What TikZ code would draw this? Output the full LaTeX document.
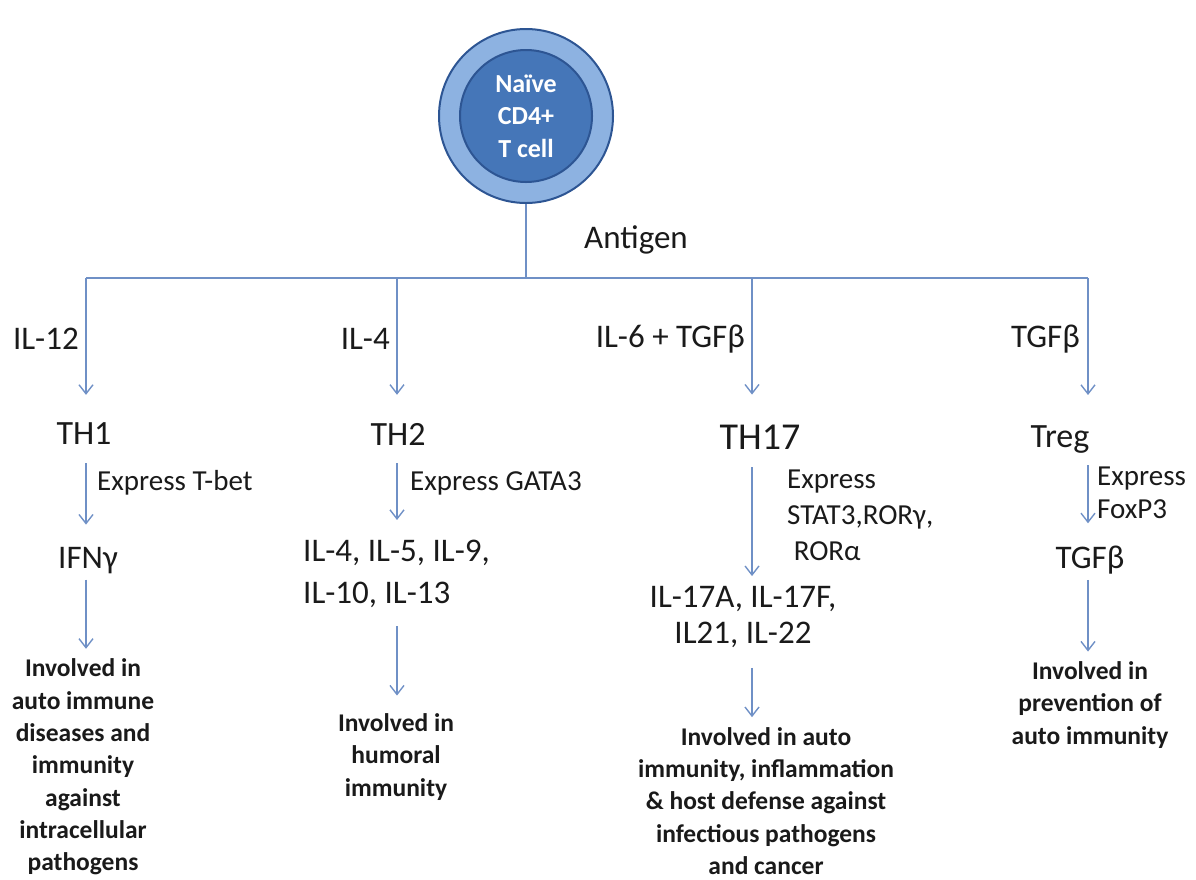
\documentclass[tikz,border=0pt]{standalone}
\usepackage{fontspec}
\setmainfont{Carlito}
\usetikzlibrary{arrows.meta}
\definecolor{lncol}{HTML}{6F90C6}
\definecolor{txt}{HTML}{1A1A1A}
\definecolor{ringfill}{HTML}{8DB2E1}
\definecolor{corefill}{HTML}{4576B8}
\definecolor{rimcol}{HTML}{2D5593}
\begin{document}
\begin{tikzpicture}[x=1pt,y=-1pt,
  ln/.style={draw=lncol, line width=1.4pt},
  arr/.style={ln, -{Straight Barb[length=9pt,width=14pt]}},
  lab/.style={inner sep=0pt, text=txt, font=\fontsize{33}{40}\selectfont},
  thlab/.style={inner sep=0pt, text=txt, font=\fontsize{34}{40}\selectfont},
  exlab/.style={inner sep=0pt, text=txt, font=\fontsize{29}{35}\selectfont, align=left},
  outcome/.style={inner sep=0pt, text=txt, align=center, font=\fontsize{25.5}{32.3}\selectfont\bfseries},
]
\useasboundingbox (0,0) rectangle (1196,879);

% naive cell
\node[circle, minimum size=174pt, inner sep=0pt, fill=ringfill, draw=rimcol, line width=2pt] (cell) at (526,116) {};
\node[circle, minimum size=132pt, inner sep=0pt, fill=corefill, draw=rimcol, line width=2pt,
      text=white, align=center, font=\fontsize{26}{32.5}\selectfont\bfseries] (core) at (526,116) {Naïve\\CD4+\\T cell};

\node[lab] (antigen) at (636,240) {Antigen};

% junctions
\coordinate (j0) at (526,278);
\coordinate (j1) at (86,278);
\coordinate (j2) at (397,278);
\coordinate (j3) at (752,278);
\coordinate (j4) at (1088,278);
\draw[ln] (cell.south) -- (j0);
\draw[ln] (j1) -- (j4);

% branch labels
\node[lab, anchor=east] (il12) at (79,339) {IL-12};
\node[lab, anchor=east] (il4) at (390,339) {IL-4};
\node[lab, anchor=east] (il6) at (745,339) {IL-6 + TGFβ};
\node[lab, anchor=east] (tgf) at (1080,339) {TGFβ};

% subsets
\node[thlab] (th1) at (84,434) {TH1};
\node[thlab] (th2) at (398,434) {TH2};
\node[thlab, font=\fontsize{38}{44}\selectfont] (th17) at (760,437) {TH17};
\node[thlab, anchor=base] (treg) at (1060,447) {Treg};

\draw[arr, shorten >=28pt] (j1) -- (j1 |- th1.north);
\draw[arr, shorten >=28pt] (j2) -- (j2 |- th2.north);
\draw[arr, shorten >=30pt] (j3) -- (j3 |- th17.north);
\draw[arr, shorten >=30pt] (j4) -- (j4 |- treg.north);

% transcription factors
\node[exlab, anchor=west] (ex1) at (97,483) {Express T-bet};
\node[exlab, anchor=west] (ex2) at (410,483) {Express GATA3};
\node[exlab, anchor=west, font=\fontsize{29}{36}\selectfont] (ex3) at (787,515) {Express\\STAT3,RORγ,\\\ RORα};
\node[exlab, anchor=west, font=\fontsize{29}{33}\selectfont] (ex4) at (1097,493) {Express\\FoxP3};

% cytokines
\node[lab, anchor=base] (ifn) at (88,568) {IFNγ};
\node[lab, anchor=west, align=left, font=\fontsize{33}{42}\selectfont] (il2) at (303,574) {IL-4, IL-5, IL-9,\\IL-10, IL-13};
\node[lab, align=center, font=\fontsize{33}{36}\selectfont] (il3) at (743,617) {IL-17A, IL-17F,\\IL21, IL-22};
\node[lab, anchor=base] (tgf4) at (1090,568) {TGFβ};

\draw[arr, shorten <=18pt, shorten >=22pt] (th1.south -| j1) -- (j1 |- ifn.north);
\draw[arr, shorten <=18pt, shorten >=20pt] (th2.south -| j2) -- (j2 |- il2.north);
\draw[arr, shorten <=18pt, shorten >=10pt] (th17.south -| j3) -- (j3 |- il3.north);
\draw[arr, shorten <=12pt, shorten >=22pt] (treg.south -| j4) -- (j4 |- tgf4.north);

% outcomes
\node[outcome] (out1) at (83,767) {Involved in\\auto immune\\diseases and\\immunity\\against\\intracellular\\pathogens};
\node[outcome] (out2) at (396,757) {Involved in\\humoral\\immunity};
\node[outcome] (out3) at (766,801) {Involved in auto\\immunity, inflammation\\\& host defense against\\infectious pathogens\\and cancer};
\node[outcome] (out4) at (1090,705) {Involved in\\prevention of\\auto immunity};

\draw[arr, shorten <=6pt, shorten >=10pt] (ifn.south -| j1) -- (j1 |- out1.north);
\draw[arr, shorten <=18pt, shorten >=18pt] (il2.south -| j2) -- (j2 |- out2.north);
\draw[arr, shorten <=20pt, shorten >=10pt] (il3.south -| j3) -- (j3 |- out3.north);
\draw[arr, shorten <=6pt, shorten >=10pt] (tgf4.south -| j4) -- (j4 |- out4.north);
\end{tikzpicture}
\end{document}
